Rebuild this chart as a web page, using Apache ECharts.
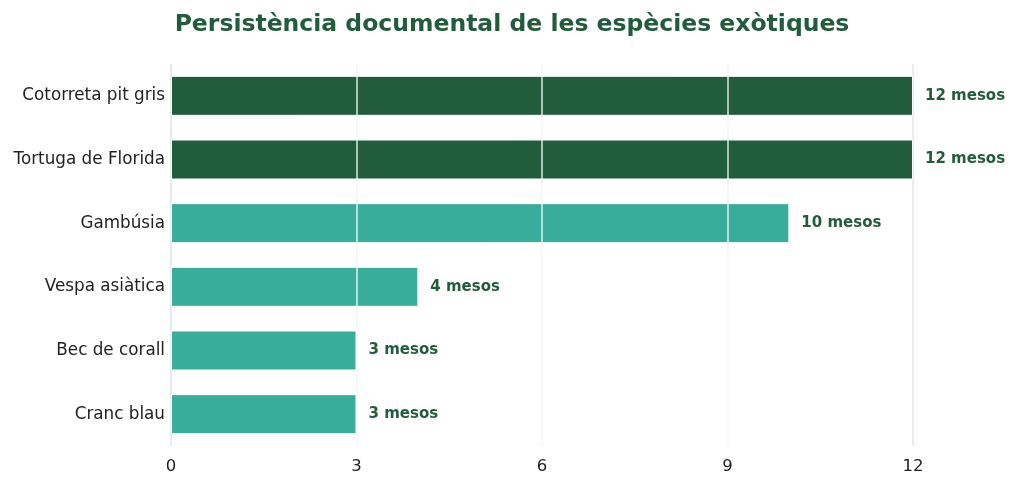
<!DOCTYPE html>
<html>
<head>
<meta charset="utf-8">
<script src="https://cdn.jsdelivr.net/npm/echarts@6/dist/echarts.min.js"></script>
<style>
  html, body { margin: 0; padding: 0; background: #fff; }
  #chart-container { width: 1024px; height: 487px; }
</style>
</head>
<body>
<div id="chart-container"></div>
<script>
var categories = ['Cotorreta pit gris', 'Tortuga de Florida', 'Gambúsia', 'Vespa asiàtica', 'Bec de corall', 'Cranc blau'];
var months = [12, 12, 10, 4, 3, 3];
var xTicks = [0, 3, 6, 9, 12];

var dom = document.getElementById('chart-container');
var myChart = echarts.init(dom, null, { renderer: 'canvas' });

var option = {
  animation: false,
  title: {
    text: 'Persistència documental de les espècies exòtiques',
    left: 'center',
    top: 8,
    textStyle: {
      fontFamily: 'DejaVu Sans',
      fontSize: 23.5,
      fontWeight: 'bold',
      color: '#215c3c'
    }
  },
  grid: {
    left: 171,
    right: 111,
    top: 64,
    bottom: 41
  },
  xAxis: {
    type: 'value',
    min: 0,
    max: 12,
    interval: 3,
    axisLine: { show: false },
    axisTick: { show: false },
    axisLabel: {
      fontFamily: 'DejaVu Sans',
      fontSize: 16.5,
      color: '#222',
      margin: 12
    },
    splitLine: { lineStyle: { color: '#e2e4e3', width: 1.5 } }
  },
  yAxis: {
    type: 'category',
    data: categories,
    inverse: true,
    axisLine: { show: false },
    axisTick: { show: false },
    axisLabel: {
      fontFamily: 'DejaVu Sans',
      fontSize: 16.8,
      color: '#222',
      margin: 6
    }
  },
  series: [
    {
      type: 'bar',
      barWidth: 40,
      data: months.map(function (v) {
        return {
          value: v,
          itemStyle: { color: v >= 12 ? '#215c3c' : '#38ad9c' }
        };
      }),
      itemStyle: { borderColor: '#ffffff', borderWidth: 1 },
      label: {
        show: true,
        position: 'right',
        distance: 12,
        formatter: '{c} mesos',
        fontFamily: 'DejaVu Sans',
        fontSize: 15,
        fontWeight: 'bold',
        color: '#215c3c'
      },
      markLine: {
        silent: true,
        symbol: 'none',
        label: { show: false },
        lineStyle: { color: 'rgba(255,255,255,0.85)', width: 1.5, type: 'solid' },
        data: xTicks.slice(1, -1).map(function (t) { return { xAxis: t }; })
      }
    }
  ]
};

myChart.setOption(option);
window.addEventListener('resize', myChart.resize);
</script>
</body>
</html>
